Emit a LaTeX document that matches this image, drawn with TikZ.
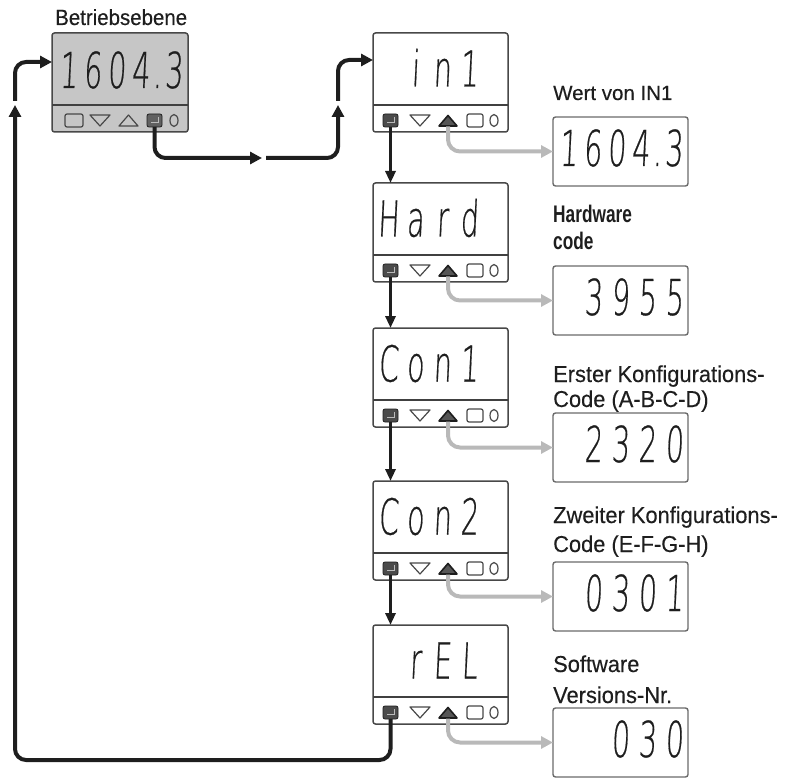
\documentclass[tikz,border=0pt]{standalone}
\usepackage{fontspec}
\setmainfont{Liberation Sans}
\newfontfamily\labfont[FakeBold=0.35]{Liberation Sans}
\newfontfamily\segfont[FakeSlant=0.08,FakeBold=0.6]{DejaVu Sans ExtraLight}
\usetikzlibrary{arrows.meta}
\definecolor{ink}{HTML}{1E1E1E}
\definecolor{frame}{HTML}{484848}
\definecolor{lcd}{HTML}{C6C6C6}
\definecolor{pale}{HTML}{B9B9B9}
\definecolor{valframe}{HTML}{6A6A6A}
\newlength\segcw
\newcommand\segc[1]{\makebox[\segcw][c]{#1}}
\newcommand\segtext[2]{\scalebox{0.95}[1.65]{\segfont\fontsize{30}{30}\selectfont\setlength\segcw{#1}#2}}
\newcommand\labtext[2]{\scalebox{#1}[1]{#2}}
% buttons of a parameter display: enter, down, up (active), square, circle
\newcommand\btnsB[3]{%
  \begin{scope}[shift={(#1,#2)}]
    \node[enterkey] (e#3) at (17.5,87.5) {};
    \draw[white!70!ink, line width=0.9pt] (21.5,84) -- (21.5,89) -- (13.5,89);
    \draw[btn, line join=round] (37,82) -- (57,82) -- (47,93) -- cycle;
    \draw[draw=ink, fill=ink!75, line width=1.6pt, line join=round] (66,93) -- (84,93) -- (75,82.5) -- cycle;
    \coordinate (u#3) at (75,93.5);
    \draw[btn, rounded corners=2pt] (94,81) rectangle (110,94);
    \draw[btn] (121,87.5) ellipse [x radius=4pt, y radius=6pt];
  \end{scope}}
\begin{document}
\begin{tikzpicture}[x=1pt,y=-1pt,
  devbox/.style={draw=frame, line width=1.5pt, rounded corners=2.5pt, fill=white,
    minimum width=135pt, minimum height=99pt, inner sep=0pt, outer sep=0pt},
  valbox/.style={draw=valframe, line width=1.4pt, rounded corners=2.5pt, fill=white,
    minimum width=135pt, minimum height=69pt, inner sep=0pt, outer sep=0pt},
  divider/.style={draw=ink!85, line width=1.8pt},
  btn/.style={draw=frame, line width=1.2pt},
  enterkey/.style={draw=ink, fill=ink!80, line width=0.8pt, rounded corners=2pt,
    minimum width=15pt, minimum height=13pt, inner sep=0pt, outer sep=0pt},
  seg/.style={anchor=base east, inner sep=0pt, text=ink},
  lab/.style={anchor=base west, inner sep=0pt, text=ink, font=\labfont\fontsize{23}{23}\selectfont},
  labn/.style={anchor=base west, inner sep=0pt, text=ink, font=\bfseries\fontsize{24}{24}\selectfont},
  mainline/.style={draw=ink, line width=4pt, rounded corners=11pt},
  mainarrow/.style={mainline, -{Triangle[length=12pt,width=12pt]}},
  steparrow/.style={draw=ink, line width=3pt, -{Triangle[length=12pt,width=10pt]}},
  valarrow/.style={draw=pale, line width=4pt, rounded corners=12pt, -{Triangle[length=12pt,width=12pt]}}
]
\useasboundingbox (0,0) rectangle (793,778);

% ---------- operation level device ----------
\node[lab, font=\labfont\fontsize{22}{22}\selectfont] (title) at (55,25) {\labtext{0.93}{Betriebsebene}};
\node[devbox, fill=lcd, minimum width=136pt] (dev0) at (120,82.5) {};
\draw[divider] ([yshift=-72pt]dev0.north west) -- ([yshift=-72pt]dev0.north east);
\node[seg] (t0) at (186,88) {\segtext{25.3pt}{\segc{1}\segc{6}\segc{0}\segc{4}\makebox[9.5pt][c]{.}\segc{3}}};

% ---------- parameter devices ----------
\node[devbox] (d1) at (440.5,82.5) {};
\node[devbox] (d2) at (440.5,232.5) {};
\node[devbox] (d3) at (440.5,377.5) {};
\node[devbox] (d4) at (440.5,530.5) {};
\node[devbox] (d5) at (440.5,674.5) {};
\foreach \d in {d1,d2,d3,d4,d5}
  \draw[divider] ([yshift=-72pt]\d.north west) -- ([yshift=-72pt]\d.north east);

\node[seg] (t1) at (483,86.5) {\segtext{28.4pt}{\segc{i}\segc{n}\segc{1}}};
\node[seg] (t2) at (483,236.5) {\segtext{28.4pt}{\segc{H}\segc{a}\segc{r}\segc{d}}};
\node[seg] (t3) at (483,381.5) {\segtext{28.4pt}{\segc{C}\segc{o}\segc{n}\segc{1}}};
\node[seg] (t4) at (483,534.5) {\segtext{28.4pt}{\segc{C}\segc{o}\segc{n}\segc{2}}};
\node[seg] (t5) at (483,678.5) {\segtext{28.4pt}{\segc{r}\segc{E}\segc{L}}};

% ---------- value displays ----------
\node[valbox] (v1) at (620.5,151.5) {};
\node[valbox] (v2) at (620.5,300.5) {};
\node[valbox] (v3) at (620.5,447.5) {};
\node[valbox] (v4) at (620.5,596.5) {};
\node[valbox] (v5) at (620.5,742.5) {};
\node[seg] (w1) at (686,166) {\segtext{25.3pt}{\segc{1}\segc{6}\segc{0}\segc{4}\makebox[9.5pt][c]{.}\segc{3}}};
\node[seg] (w2) at (688,315) {\segtext{28.4pt}{\segc{3}\segc{9}\segc{5}\segc{5}}};
\node[seg] (w3) at (688,462) {\segtext{28.4pt}{\segc{2}\segc{3}\segc{2}\segc{0}}};
\node[seg] (w4) at (688,611) {\segtext{28.4pt}{\segc{0}\segc{3}\segc{0}\segc{1}}};
\node[seg] (w5) at (688,757) {\segtext{28.4pt}{\segc{0}\segc{3}\segc{0}}};

% ---------- labels ----------
\node[lab, font=\labfont\fontsize{20.5}{20.5}\selectfont] (l1) at (553,100) {Wert von IN1};
\node[labn] (l2a) at (553,223) {\labtext{0.72}{Hardware}};
\node[labn] (l2b) at (553,250) {\labtext{0.72}{code}};
\node[lab] (l3a) at (553,382) {\labtext{0.95}{Erster Konfigurations-}};
\node[lab] (l3b) at (553,407) {\labtext{0.95}{Code (A-B-C-D)}};
\node[lab] (l4a) at (553,523) {\labtext{0.95}{Zweiter Konfigurations-}};
\node[lab] (l4b) at (553,552) {\labtext{0.95}{Code (E-F-G-H)}};
\node[lab] (l5a) at (553,672) {\labtext{0.95}{Software}};
\node[lab] (l5b) at (553,703) {\labtext{0.95}{Versions-Nr.}};

% ---------- buttons ----------
\begin{scope}[shift={(52,33)}]
  \draw[btn, rounded corners=2pt] (13,81) rectangle (31,94);
  \draw[btn, line join=round] (38,82) -- (58,82) -- (48,93) -- cycle;
  \draw[btn, line join=round] (67,93) -- (86,93) -- (76.5,82) -- cycle;
  \node[enterkey, fill=ink!70] (e0) at (102.5,87.5) {};
  \draw[white!70!ink, line width=0.9pt] (106.5,84) -- (106.5,89) -- (98.5,89);
  \draw[btn] (122,87.5) ellipse [x radius=4pt, y radius=6pt];
\end{scope}
\btnsB{373}{33}{1}
\btnsB{373}{183}{2}
\btnsB{373}{328}{3}
\btnsB{373}{481}{4}
\btnsB{373}{625}{5}

% ---------- connectors ----------
\coordinate (j1) at (264,158);
\coordinate (j2) at (338,103);
\coordinate (k1) at (15,760);
\coordinate (k2) at (15,103);
\draw[mainarrow] (e0.south) |- ([xshift=-2pt]j1);
\draw[mainarrow] ([xshift=2pt]j1) -| ([yshift=-2pt]j2);
\draw[mainarrow] ([yshift=2pt]j2) |- ([yshift=-27pt]d1.north west);
\draw[mainarrow] (e5.south) |- (k1) -- ([yshift=-2pt]k2);
\draw[mainarrow] ([yshift=2pt]k2) |- ([yshift=-29pt]dev0.north west);

\draw[steparrow] (e1.south) -- (e1.south |- d2.north);
\draw[steparrow] (e2.south) -- (e2.south |- d3.north);
\draw[steparrow] (e3.south) -- (e3.south |- d4.north);
\draw[steparrow] (e4.south) -- (e4.south |- d5.north);

\draw[valarrow] (u1) |- (v1.west);
\draw[valarrow] (u2) |- (v2.west);
\draw[valarrow] (u3) |- (v3.west);
\draw[valarrow] (u4) |- (v4.west);
\draw[valarrow] (u5) |- (v5.west);
\end{tikzpicture}
\end{document}
